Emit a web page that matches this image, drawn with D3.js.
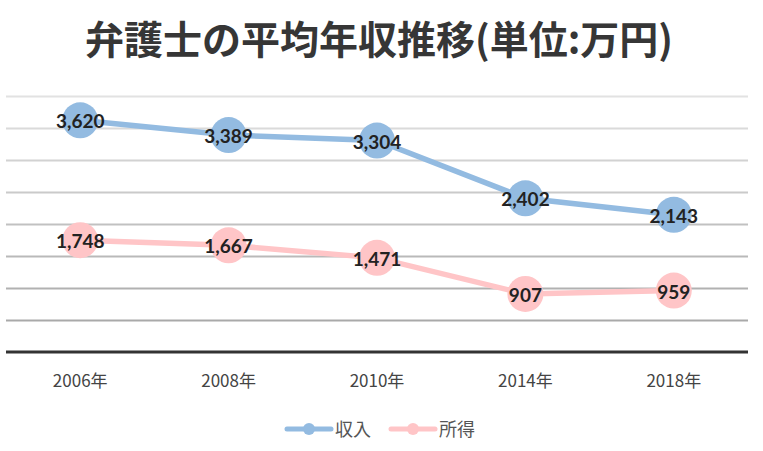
<!DOCTYPE html>
<html>
<head>
<meta charset="utf-8">
<script src="https://cdn.jsdelivr.net/npm/d3@7"></script>
<style>
  body { margin: 0; background: #fff; }
  svg { display: block; }
</style>
</head>
<body>
<div id="container"></div>
<script>
// data
var years = ['2006年', '2008年', '2010年', '2014年', '2018年'];
var income = [3620, 3389, 3304, 2402, 2143];   // 収入
var earnings = [1748, 1667, 1471, 907, 959];   // 所得
var seriesNames = ['収入', '所得'];
var gridValues = [500, 1000, 1500, 2000, 2500, 3000, 3500, 4000];

var W = 763, H = 451;
var colors = ['#93bbe1', '#ffc5c7'];

var svg = d3.select('#container').append('svg')
  .attr('width', W)
  .attr('height', H);

svg.append('text')
  .attr('x', 379)
  .attr('y', 54)
  .attr('text-anchor', 'middle')
  .style('font-family', '"Noto Sans CJK JP", sans-serif')
  .style('font-weight', 'bold')
  .style('font-size', '39px')
  .style('fill', '#363636')
  .text('弁護士の平均年収推移(単位:万円)');

var x = d3.scaleBand().domain(years).range([6, 748]);
var y = d3.scaleLinear().domain([0, 4000]).range([352, 96]);

var gridColor = d3.interpolateRgb('#e2e2e2', '#a9a9a9');
svg.selectAll('line.grid')
  .data(gridValues)
  .enter()
  .append('line')
  .attr('class', 'grid')
  .attr('x1', 6)
  .attr('x2', 748)
  .attr('y1', function(d) { return Math.round(y(d)) + 0.5; })
  .attr('y2', function(d) { return Math.round(y(d)) + 0.5; })
  .style('stroke', function(d, i) { return gridColor(1 - i / (gridValues.length - 1)); })
  .style('stroke-width', 2);

// x axis
var xAxis = svg.append('g')
  .attr('transform', 'translate(0,352)')
  .call(d3.axisBottom(x).tickSize(0).tickPadding(23));
xAxis.select('.domain')
  .attr('d', 'M6,0H748')
  .style('stroke', '#333')
  .style('stroke-width', 3);
xAxis.selectAll('text')
  .style('font-family', '"Noto Sans CJK JP", sans-serif')
  .style('font-size', '17px')
  .style('fill', '#444');

var series = [income, earnings];
var line = d3.line()
  .x(function(d, i) { return x(years[i]) + x.bandwidth() / 2; })
  .y(function(d) { return y(d); });

series.forEach(function(vals, s) {
  svg.append('path')
    .datum(vals)
    .attr('d', line)
    .style('fill', 'none')
    .style('stroke', colors[s])
    .style('stroke-width', 5.5);
  svg.selectAll('circle.s' + s)
    .data(vals)
    .enter()
    .append('circle')
    .attr('class', 's' + s)
    .attr('cx', function(d, i) { return x(years[i]) + x.bandwidth() / 2; })
    .attr('cy', function(d) { return y(d); })
    .attr('r', 18)
    .style('fill', colors[s]);
});

series.forEach(function(vals, s) {
  svg.selectAll('text.lbl' + s)
    .data(vals)
    .enter()
    .append('text')
    .attr('class', 'lbl' + s)
    .attr('x', function(d, i) { return x(years[i]) + x.bandwidth() / 2; })
    .attr('y', function(d) { return y(d) + 8; })
    .attr('text-anchor', 'middle')
    .style('font-family', 'Lato, sans-serif')
    .style('font-weight', 'bold')
    .style('font-size', '19px')
    .style('fill', '#222')
    .text(function(d) { return d3.format(',')(d); });
});

// legend
var legend = svg.selectAll('g.legend')
  .data(seriesNames)
  .enter()
  .append('g')
  .attr('class', 'legend')
  .attr('transform', function(d, i) { return 'translate(' + (287 + i * 104) + ',429)'; });
legend.append('line')
  .attr('x1', 0).attr('x2', 44)
  .style('stroke', function(d, i) { return colors[i]; })
  .style('stroke-width', 5)
  .style('stroke-linecap', 'round');
legend.append('circle')
  .attr('cx', 22)
  .attr('r', 6)
  .style('fill', function(d, i) { return colors[i]; });
legend.append('text')
  .attr('x', 48)
  .attr('y', 7)
  .style('font-family', '"Noto Sans CJK JP", sans-serif')
  .style('font-size', '18px')
  .style('fill', '#555')
  .text(function(d) { return d; });
</script>
</body>
</html>
